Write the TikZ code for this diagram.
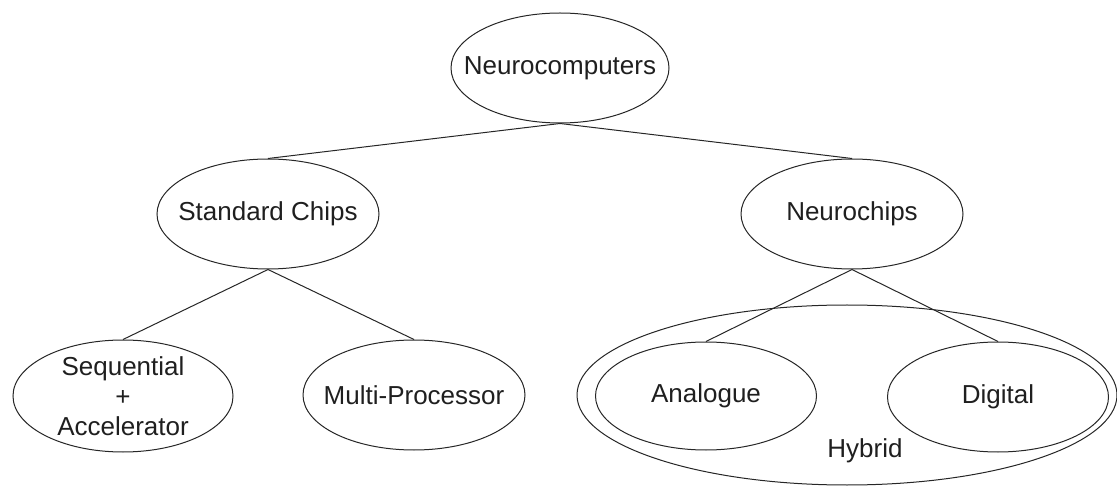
\documentclass[tikz,border=0pt]{standalone}
\usepackage{fontspec}
\setmainfont{Liberation Sans}
\usetikzlibrary{shapes.geometric}
\begin{document}
\begin{tikzpicture}[x=1pt,y=-1pt,
  oval/.style={draw=black!85, line width=1pt, ellipse, inner sep=0pt},
  lbl/.style={text=black!88, font=\fontsize{26}{30}\selectfont, align=center, inner sep=0pt},
  link/.style={draw=black!85, line width=1pt}]
\useasboundingbox (0,0) rectangle (1117,486);
\node[oval, minimum width=540pt, minimum height=180pt] (hy) at (847,395) {};
\node[oval, minimum width=218pt, minimum height=110pt] (nc) at (560,68) {};
\node[oval, minimum width=222pt, minimum height=110pt] (sc) at (268,214) {};
\node[oval, minimum width=222pt, minimum height=110pt] (nch) at (852,214) {};
\node[oval, minimum width=220pt, minimum height=112pt] (seq) at (123,396) {};
\node[oval, minimum width=222pt, minimum height=110pt] (mp) at (414,395) {};
\node[oval, minimum width=221pt, minimum height=108pt] (an) at (706,396) {};
\node[oval, minimum width=221pt, minimum height=110pt] (dg) at (998,397) {};
\node[lbl] (tnc) at (nc) {Neurocomputers};
\node[lbl] (tsc) at (sc) {Standard Chips};
\node[lbl] (tnch) at (nch) {Neurochips};
\node[lbl] (tseq) at (seq) {Sequential\\+\\Accelerator};
\node[lbl] (tmp) at (mp) {Multi-Processor};
\node[lbl] (tan) at (an) {Analogue};
\node[lbl] (tdg) at (dg) {Digital};
\node[lbl] (thy) at (865,451) {Hybrid};
\draw[link] (nc.south) -- (sc.north);
\draw[link] (nc.south) -- (nch.north);
\draw[link] (sc.south) -- (seq.north);
\draw[link] (sc.south) -- (mp.north);
\draw[link] (nch.south) -- (an.north);
\draw[link] (nch.south) -- (dg.north);
\end{tikzpicture}
\end{document}
